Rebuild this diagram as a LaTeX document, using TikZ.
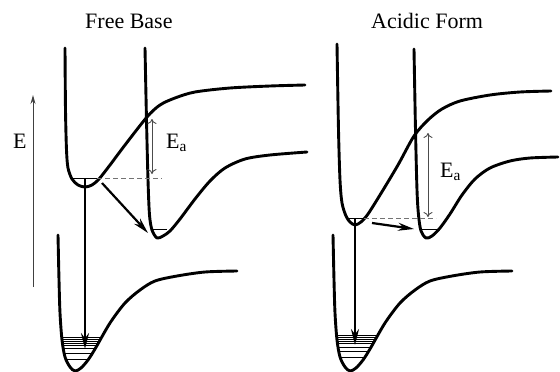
\documentclass[tikz,border=0pt]{standalone}
\usepackage{fontspec}
\setmainfont{Liberation Serif}
\usetikzlibrary{arrows.meta}
\newcommand\groundwell[1]{%
  \begin{scope}
    \clip plot[smooth,tension=0.5] coordinates {(58,235) (59,280) (60,313) (62,340) (65,357) (70,367) (75,371) (81,368) (88,360) (95,349) (110,323) (125,303) (140,290) (155,281) (177,276) (205,272) (237,271)} -- cycle;
    \foreach \yy in {#1} \draw[lvl] (40,\yy) -- (120,\yy);
  \end{scope}
  \draw[pes] plot[smooth,tension=0.5] coordinates {(58,235) (59,280) (60,313) (62,340) (65,357) (70,367) (75,371) (81,368) (88,360) (95,349) (110,323) (125,303) (140,290) (155,281) (177,276) (205,272) (237,271)};
}
\begin{document}
\begin{tikzpicture}[x=1pt,y=-1pt,
  pes/.style={line width=2.9pt, line cap=round, line join=round},
  lvl/.style={line width=0.8pt},
  dashlvl/.style={line width=0.8pt, black!55, dash pattern=on 5pt off 3pt},
  trans/.style={line width=2.2pt, -{Stealth[length=16pt,width=8pt]}},
  ea/.style={line width=0.9pt, black!70, {To[length=5pt,width=9pt]}-{To[length=5pt,width=9pt]}},
  axis/.style={line width=1pt, black!75, -{Stealth[length=9pt,width=5pt]}},
  lab/.style={font=\fontsize{22}{26}\selectfont, inner sep=0pt, anchor=base west}]
\useasboundingbox (0,0) rectangle (560,372);

% titles and labels
\node[lab] (t1) at (85,28) {Free Base};
\node[lab] (t2) at (371,28) {Acidic Form};
\node[lab] (elab) at (13,148) {E};
\node[lab] (ea1) at (166,148) {E\textsubscript{a}};
\node[lab] (ea2) at (440,177) {E\textsubscript{a}};

% energy axis
\coordinate (ax0) at (33,287);
\coordinate (ax1) at (33,95);
\draw[axis] (ax0) -- (ax1);

% ===== Free Base =====
\draw[pes] plot[smooth,tension=0.5] coordinates {(65,48) (65.5,110) (66.5,150) (68,168) (72,179) (78,185) (85,187) (92,185) (99,179) (110,165) (125,145) (147,117) (160,105) (175,98) (195,92) (230,88) (270,86) (305,85)};
\draw[pes] plot[smooth,tension=0.5] coordinates {(145,48) (146.5,120) (148,180) (149.5,215) (152,230) (157,238) (163,236) (170,231) (180,219) (195,199) (210,181) (225,168) (245,159) (270,155) (307,152)};
\groundwell{337,339,341,343,345,348,353,359}

\coordinate (l1a) at (73,178);
\coordinate (l1b) at (97,178);
\coordinate (l1c) at (162,178);
\draw[lvl] (l1a) -- (l1b);
\draw[dashlvl] (l1b) -- (l1c);
\coordinate (k1a) at (152,229);
\coordinate (k1b) at (167,229);
\draw[lvl] (k1a) -- (k1b);

\coordinate (lmin) at (85,178);
\coordinate (lgnd) at (85,349);
\draw[trans] (lmin) -- (lgnd);
\coordinate (d1a) at (102,183);
\coordinate (d1b) at (148,233);
\draw[trans] (d1a) -- (d1b);
\coordinate (e1a) at (152,119);
\coordinate (e1b) at (152,174);
\draw[ea] (e1a) -- (e1b);

% ===== Acidic Form =====
\draw[pes] plot[smooth,tension=0.5] coordinates {(337,44) (338.5,130) (340,180) (342,203) (346,216) (350,222) (355,225) (361,222) (368,214) (380,195) (398,165) (414,136) (428,120) (442,109) (460,101) (490,95) (520,92) (551,91)};
\draw[pes] plot[smooth,tension=0.5] coordinates {(414,49) (415.5,130) (417,190) (418.5,215) (421,231) (426,238) (432,236) (440,228) (450,214) (462,195) (475,179) (490,168) (510,161) (530,158) (558,157)};
\begin{scope}[shift={(275,0)}]
\groundwell{335,337,339,341,343,347,351,357}
\end{scope}

\coordinate (l2a) at (347,218);
\coordinate (l2b) at (364,218);
\coordinate (l2c) at (436,218);
\draw[lvl] (l2a) -- (l2b);
\draw[dashlvl] (l2b) -- (l2c);
\coordinate (k2a) at (421,229);
\coordinate (k2b) at (439,229);
\draw[lvl] (k2a) -- (k2b);

\coordinate (rmin) at (355,218);
\coordinate (rgnd) at (355,345);
\draw[trans] (rmin) -- (rgnd);
\coordinate (h2a) at (372,223);
\coordinate (h2b) at (414,229);
\draw[trans] (h2a) -- (h2b);
\coordinate (e2a) at (428,133);
\coordinate (e2b) at (428,217);
\draw[ea] (e2a) -- (e2b);
\end{tikzpicture}
\end{document}
